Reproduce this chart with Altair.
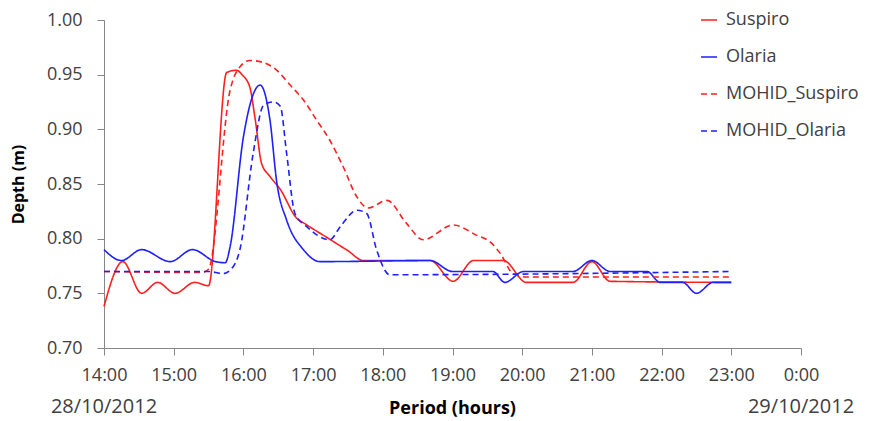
import altair as alt
import pandas as pd

# ---- data ----
series_names = ["Suspiro", "Olaria", "MOHID_Suspiro", "MOHID_Olaria"]

suspiro_t = [14.0, 14.27, 14.54, 14.77, 15.02, 15.3, 15.5, 15.76, 15.9, 15.98, 16.09, 16.17,
             16.26, 16.38, 16.53, 16.76, 16.9, 17.2, 17.5, 17.72, 18.68, 19.01, 19.3, 19.73,
             20.06, 20.73, 21.0, 21.26, 23.0]
suspiro_v = [0.738, 0.779, 0.75, 0.76, 0.75, 0.76, 0.757, 0.952, 0.954, 0.95, 0.939, 0.909,
             0.869, 0.857, 0.845, 0.819, 0.813, 0.801, 0.789, 0.78, 0.78, 0.761, 0.78, 0.78,
             0.76, 0.76, 0.779, 0.761, 0.76]

olaria_t = [14.0, 14.25, 14.54, 14.95, 15.27, 15.6, 15.74, 15.81, 16.0, 16.24, 16.38, 16.48,
            16.62, 16.86, 17.1, 18.68, 19.0, 19.58, 19.75, 20.02, 20.73, 21.0, 21.26, 21.79,
            21.98, 22.3, 22.5, 22.74, 23.0]
olaria_v = [0.79, 0.78, 0.79, 0.779, 0.79, 0.779, 0.778, 0.793, 0.893, 0.9405, 0.909, 0.851,
            0.817, 0.79, 0.779, 0.78, 0.77, 0.77, 0.76, 0.77, 0.77, 0.78, 0.77, 0.77,
            0.76, 0.76, 0.75, 0.76, 0.76]

mohid_suspiro_t = [14.0, 15.4, 15.5, 15.81, 15.88, 16.09, 16.29, 16.48, 16.67, 16.86, 17.05,
                   17.24, 17.43, 17.63, 17.79, 18.06, 18.34, 18.58, 19.01, 19.35, 19.54,
                   19.68, 19.87, 20.06, 23.0]
mohid_suspiro_v = [0.77, 0.769, 0.772, 0.936, 0.95, 0.963, 0.961, 0.954, 0.9405, 0.927, 0.9085,
                   0.89, 0.866, 0.838, 0.828, 0.835, 0.814, 0.799, 0.8125, 0.803, 0.797,
                   0.787, 0.768, 0.765, 0.765]

mohid_olaria_t = [14.0, 15.5, 15.71, 15.86, 15.95, 16.14, 16.29, 16.43, 16.53, 16.62, 16.74,
                  16.91, 17.24, 17.39, 17.63, 17.77, 17.91, 18.1, 23.0]
mohid_olaria_v = [0.77, 0.77, 0.768, 0.775, 0.79, 0.878, 0.922, 0.925, 0.921, 0.878, 0.823,
                  0.811, 0.799, 0.811, 0.826, 0.823, 0.79, 0.767, 0.77]

date_labels = ["28/10/2012", "29/10/2012"]
date_hours = [14, 24]

hour_ticks = list(range(14, 25))
depth_ticks = [0.70, 0.75, 0.80, 0.85, 0.90, 0.95, 1.00]

# ---- tables ----
rows = []
for name, ts, vs in [("Suspiro", suspiro_t, suspiro_v),
                     ("Olaria", olaria_t, olaria_v),
                     ("MOHID_Suspiro", mohid_suspiro_t, mohid_suspiro_v),
                     ("MOHID_Olaria", mohid_olaria_t, mohid_olaria_v)]:
    for t, v in zip(ts, vs):
        rows.append({"series": name, "hour": t, "depth": v})
df = pd.DataFrame(rows)
dates_df = pd.DataFrame({"hour": date_hours, "label": date_labels})

FONT = "Open Sans"
colors = ["#ff1f1f", "#1f1fff", "#ff1f1f", "#1f1fff"]
dashes = [[1, 0], [1, 0], [6, 4], [6, 4]]
widths = [1.6, 1.6, 2.0, 2.0]

legend = alt.Legend(title=None, orient="none", legendX=596, legendY=-9,
                    labelFont=FONT, labelFontSize=18, labelColor="#404040",
                    symbolType="stroke", symbolSize=256, symbolStrokeWidth=2,
                    rowPadding=19, labelOffset=8, padding=0)

x_enc = alt.X("hour:Q",
              scale=alt.Scale(domain=[14, 24], nice=False, zero=False),
              axis=alt.Axis(values=hour_ticks,
                            labelExpr="datum.value == 24 ? '0:00' : datum.value + ':00'",
                            title="Period (hours)", titleFont=FONT, titleFontSize=18,
                            titleFontWeight="bold", titleColor="#000000",
                            titleX=348, titleY=60, titleBaseline="middle",
                            labelPadding=11, labelFlush=False))

lines = alt.Chart(df).mark_line(interpolate="monotone").encode(
    x=x_enc,
    y=alt.Y("depth:Q",
            scale=alt.Scale(domain=[0.70, 1.00], nice=False, zero=False),
            axis=alt.Axis(values=depth_ticks, format=".2f", title="Depth (m)",
                          titleFont=FONT, titleFontSize=16, titleFontWeight="bold",
                          titleColor="#000000", titleX=-86, titleY=164,
                          titleAngle=-90, titleAlign="center", titleBaseline="middle",
                          labelPadding=15)),
    color=alt.Color("series:N", scale=alt.Scale(domain=series_names, range=colors), legend=legend),
    strokeDash=alt.StrokeDash("series:N", scale=alt.Scale(domain=series_names, range=dashes), legend=legend),
    strokeWidth=alt.StrokeWidth("series:N", scale=alt.Scale(domain=series_names, range=widths), legend=legend),
)

dates = alt.Chart(dates_df).mark_text(font=FONT, fontSize=20, color="#404040",
                                      align="center", baseline="middle").encode(
    x=alt.X("hour:Q"),
    y=alt.value(387),
    text="label:N",
)

chart = alt.layer(lines, dates).properties(
    width=697, height=328,
    autosize=alt.AutoSizeParams(type="none"),
    padding={"left": 104, "top": 20, "right": 87, "bottom": 73},
).configure_view(stroke=None).configure_axis(
    grid=False, domainColor="#868686", tickColor="#868686", tickSize=7,
    labelFont=FONT, labelFontSize=18, labelColor="#404040",
)

chart.save("out.html", embed_options={"renderer": "svg", "actions": False})
